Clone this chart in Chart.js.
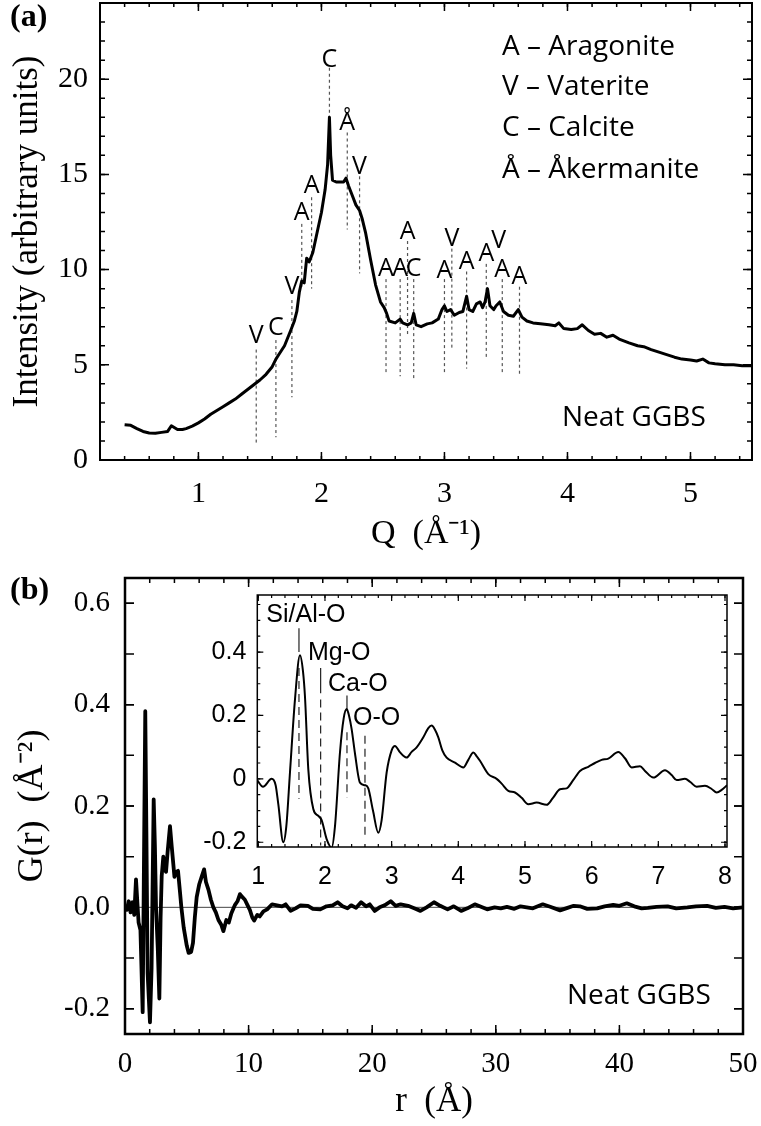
<!DOCTYPE html>
<html>
<head>
<meta charset="utf-8">
<script src="https://cdn.jsdelivr.net/npm/chart.js@4.4.1/dist/chart.umd.min.js"></script>
<style>
  body { margin: 0; background: #fff; }
  #wrap { position: relative; width: 761px; height: 1126px; }
  canvas { position: absolute; }
</style>
</head>
<body>
<div id="wrap">
  <canvas id="chartA" width="761" height="560" style="left:0;top:0"></canvas>
  <canvas id="chartB" width="761" height="566" style="left:0;top:560px"></canvas>
  <canvas id="chartInset" width="550" height="310" style="left:190px;top:585px"></canvas>
</div>
<script>
// ---- (a) scattering intensity I(Q) ----
const qValues = [0.40,0.45,0.50,0.55,0.60,0.65,0.70,0.75,0.78,0.80,
  0.83,0.87,0.90,0.95,1.00,1.05,1.10,1.15,1.20,1.25,
  1.30,1.35,1.40,1.45,1.50,1.55,1.60,1.63,1.65,1.70,
  1.75,1.78,1.80,1.82,1.84,1.86,1.88,1.90,1.93,1.96,
  2.00,2.03,2.05,2.065,2.075,2.09,2.12,2.15,2.18,2.20,
  2.22,2.25,2.28,2.31,2.33,2.36,2.40,2.44,2.48,2.51,
  2.53,2.55,2.60,2.64,2.66,2.70,2.73,2.75,2.77,2.81,
  2.86,2.90,2.95,2.98,3.00,3.02,3.05,3.08,3.12,3.15,
  3.18,3.20,3.23,3.26,3.29,3.31,3.33,3.35,3.37,3.40,
  3.42,3.45,3.48,3.52,3.56,3.60,3.63,3.67,3.72,3.78,
  3.85,3.90,3.93,3.97,4.03,4.08,4.12,4.17,4.22,4.27,
  4.32,4.37,4.42,4.50,4.57,4.62,4.68,4.75,4.80,4.87,
  4.93,5.00,5.05,5.10,5.15,5.20,5.28,5.35,5.42,5.50];
const intensity = [1.85,1.82,1.65,1.50,1.42,1.40,1.45,1.50,1.80,1.72,
  1.60,1.60,1.65,1.78,1.95,2.15,2.40,2.60,2.80,3.00,
  3.20,3.45,3.70,3.95,4.20,4.50,4.90,5.30,5.50,6.00,
  6.80,7.30,7.80,8.80,9.40,9.30,10.60,10.40,10.90,11.80,
  13.00,14.20,15.50,18.00,16.00,14.70,14.60,14.60,14.60,14.80,
  14.40,13.90,13.40,13.10,12.70,11.90,10.50,9.20,8.30,8.00,
  7.70,7.30,7.20,7.40,7.20,7.10,7.20,7.70,7.10,7.00,
  7.15,7.20,7.40,7.90,8.10,7.80,7.90,7.60,7.75,7.80,
  8.60,7.90,7.80,8.20,8.30,8.00,8.30,9.00,8.10,7.90,
  8.10,8.30,7.80,7.60,7.55,7.90,7.50,7.30,7.20,7.15,
  7.10,7.05,7.20,6.90,6.85,6.90,7.10,6.80,6.60,6.65,
  6.45,6.55,6.35,6.15,6.00,5.95,5.80,5.65,5.55,5.40,
  5.30,5.25,5.20,5.30,5.10,5.05,5.00,5.00,4.95,4.95];

// phase markers
const peakQ = [1.47,1.63,1.76,1.84,1.92,2.065,2.21,2.31,2.525,2.64,2.70,2.75,3.00,3.06,3.18,3.34,3.44,3.47,3.61];
const peakLetter = ['V','C','V','A','A','C','Å','V','A','A','A','C','A','V','A','A','V','A','A'];
const peakLabelI = [6.5,6.95,9.1,13.0,14.4,21.0,17.7,15.4,10.05,10.05,12.0,10.05,9.95,11.6,10.4,10.8,11.5,10.0,9.6];
const peakLineTop = [5.8,6.3,8.4,12.4,13.8,20.6,17.2,14.9,9.5,9.5,11.5,9.5,9.5,11.1,9.9,10.3,null,9.5,9.1];
const peakLineBottom = [0.9,1.2,3.3,9.0,9.0,18.0,12.1,9.8,4.5,4.4,6.6,4.3,4.6,5.8,4.8,5.3,null,4.6,4.5];
const phaseLegend = ['A – Aragonite', 'V – Vaterite', 'C – Calcite', 'Å – Åkermanite'];

// ---- (b) pair distribution function G(r) ----
const rMain = [0.0,0.15,0.3,0.45,0.6,0.75,0.89,1.0,1.1,1.25,
  1.43,1.52,1.64,1.73,1.83,2.02,2.15,2.32,2.42,2.51,
  2.65,2.78,2.88,2.97,3.1,3.22,3.32,3.45,3.64,3.78,
  3.91,4.0,4.15,4.29,4.45,4.56,4.75,5.0,5.15,5.35,
  5.5,5.65,5.8,6.0,6.2,6.4,6.55,6.75,6.95,7.15,
  7.35,7.56,7.8,7.96,8.2,8.4,8.6,8.9,9.1,9.3,
  9.5,9.7,9.9,10.1,10.3,10.45,10.7,10.9,11.2,11.5,
  11.9,12.3,12.7,13.0,13.4,13.8,14.2,14.8,15.2,15.8,
  16.3,16.8,17.2,17.6,18.0,18.3,18.7,19.1,19.5,19.8,
  20.2,20.6,21.0,21.5,21.9,22.3,22.9,23.4,23.9,24.4,
  25.0,25.5,26.1,26.6,27.2,27.7,28.3,28.8,29.3,29.9,
  30.4,30.9,31.5,32.0,32.5,33.0,33.8,34.4,35.2,35.8,
  36.3,36.8,37.4,38.2,38.8,39.5,40.0,40.6,41.2,41.8,
  42.3,43.0,43.9,44.6,45.5,46.2,47.1,47.8,48.5,49.2,50.0];
const gMain = [0.005,-0.005,0.012,-0.01,0.01,-0.015,0.055,0.01,-0.03,-0.045,
  -0.207,0.05,0.387,0.15,-0.13,-0.227,-0.12,0.213,0.12,0.0,
  -0.08,-0.18,-0.02,0.062,0.1,0.075,0.07,0.11,0.16,0.12,
  0.085,0.06,0.07,0.072,0.03,0.0,-0.04,-0.076,-0.09,-0.088,
  -0.07,-0.02,0.02,0.045,0.06,0.075,0.05,0.035,0.015,0.0,
  -0.01,-0.025,-0.035,-0.047,-0.025,-0.03,-0.012,0.005,0.012,0.026,
  0.02,0.015,0.005,-0.005,-0.02,-0.026,-0.015,-0.018,-0.008,-0.004,
  0.006,0.004,0.002,0.006,-0.007,-0.002,0.004,0.003,-0.003,-0.004,
  0.002,0.004,0.01,0.002,-0.002,0.004,-0.001,0.01,0.002,0.006,
  -0.007,0.0,0.004,0.012,0.003,0.006,0.003,-0.002,-0.007,0.0,
  0.01,0.003,-0.004,0.002,-0.007,-0.002,0.006,0.001,-0.004,0.0,
  -0.002,0.001,-0.003,0.002,0.0,-0.002,0.006,0.001,-0.006,-0.001,
  0.003,0.002,-0.003,-0.002,0.002,0.005,0.003,0.008,0.002,-0.002,
  -0.001,0.001,0.002,-0.002,0.0,0.002,0.003,-0.001,0.001,-0.002,0.0];

// inset: short-range G(r)
const rInset = [0.985,1.07,1.2,1.26,1.3,1.375,1.42,1.475,1.55,1.625,
  1.67,1.70,1.75,1.825,1.90,1.95,2.025,2.10,2.15,2.225,
  2.28,2.325,2.36,2.40,2.45,2.525,2.60,2.65,2.72,2.80,
  2.85,2.925,3.0,3.05,3.12,3.175,3.225,3.30,3.375,3.475,
  3.55,3.60,3.65,3.70,3.76,3.825,3.95,4.075,4.15,4.225,
  4.28,4.325,4.45,4.575,4.65,4.75,4.85,4.95,5.05,5.175,
  5.325,5.42,5.525,5.625,5.72,5.825,5.95,6.05,6.15,6.25,
  6.40,6.50,6.60,6.725,6.80,6.925,7.1,7.2,7.275,7.40,
  7.48,7.575,7.70,7.80,7.875,7.95,8.03];
const gInset = [-0.005,-0.025,0.0,-0.02,-0.08,-0.20,-0.15,0.02,0.25,0.39,
  0.34,0.26,0.03,-0.095,-0.117,-0.13,-0.19,-0.217,-0.15,0.083,
  0.19,0.22,0.20,0.157,0.08,-0.012,-0.02,-0.03,-0.10,-0.17,
  -0.13,0.02,0.09,0.104,0.085,0.073,0.067,0.085,0.099,0.131,
  0.16,0.168,0.155,0.131,0.09,0.067,0.051,0.036,0.06,0.083,
  0.07,0.057,0.015,0.0,-0.015,-0.038,-0.043,-0.06,-0.08,-0.075,
  -0.082,-0.06,-0.033,-0.03,-0.005,0.025,0.038,0.05,0.06,0.064,
  0.085,0.065,0.036,0.04,0.025,0.004,0.027,0.012,-0.004,0.0,
  -0.01,-0.025,-0.022,-0.032,-0.043,-0.035,-0.02];

const bondNames = ['Si/Al-O', 'Mg-O', 'Ca-O', 'O-O'];
const bondR = [1.61, 1.935, 2.33, 2.60];
const bondSolidTop = [0.475, 0.35, 0.263, null];
const bondSolidBottom = [0.40, 0.27, 0.215, null];
const bondDashTop = [0.35, 0.25, 0.147, 0.136];
const bondDashBottom = [-0.063, -0.21, -0.059, -0.19];
const bondLabelR = [1.12, 1.745, 2.045, 2.42];
const bondLabelG = [0.516, 0.396, 0.30, 0.193];

const serif = "'Liberation Serif', 'Times New Roman', serif";
const arial = "'Liberation Sans', Arial, sans-serif";
const calibri = "'Open Sans', 'Noto Sans', sans-serif";

const pts = (xs, ys) => xs.map((x, i) => ({ x: x, y: ys[i] }));
const vline = (x, y1, y2, dash, color) => ({
  data: [{ x: x, y: y1 }, { x: x, y: y2 }],
  borderColor: color, borderWidth: 1.2, borderDash: dash, pointRadius: 0
});

// box around the plot area with inward ticks on all four sides
const frame = {
  id: 'frame',
  beforeDatasetsDraw(chart, args, o) {
    if (!o.fill) return;
    const a = chart.chartArea;
    chart.ctx.save();
    chart.ctx.fillStyle = '#fff';
    chart.ctx.fillRect(a.left, a.top, a.right - a.left, a.bottom - a.top);
    chart.ctx.restore();
  },
  afterDatasetsDraw(chart, args, o) {
    const { ctx, chartArea: a, scales: { x, y } } = chart;
    ctx.save();
    ctx.strokeStyle = '#000';
    ctx.lineWidth = o.tickWidth;
    const marks = (scale, step, len, horiz) => {
      const n0 = Math.ceil(scale.min / step - 1e-6), n1 = Math.floor(scale.max / step + 1e-6);
      ctx.beginPath();
      for (let n = n0; n <= n1; n++) {
        const p = scale.getPixelForValue(n * step);
        if (horiz) {
          ctx.moveTo(p, a.bottom); ctx.lineTo(p, a.bottom - len);
          ctx.moveTo(p, a.top); ctx.lineTo(p, a.top + len);
        } else {
          ctx.moveTo(a.left, p); ctx.lineTo(a.left + len, p);
          ctx.moveTo(a.right, p); ctx.lineTo(a.right - len, p);
        }
      }
      ctx.stroke();
    };
    marks(x, o.xMinor, o.xMinorLen, true);
    marks(x, o.xMajor, o.xMajorLen, true);
    marks(y, o.yMinor, o.yMinorLen, false);
    marks(y, o.yMajor, o.yMajorLen, false);
    ctx.lineWidth = o.boxWidth;
    ctx.strokeRect(a.left, a.top, a.right - a.left, a.bottom - a.top);
    ctx.restore();
  }
};

// free text: pixel positions (px/py) or data positions (x/y)
const notes = {
  id: 'notes',
  afterDatasetsDraw(chart, args, o) {
    const { ctx, scales: { x, y } } = chart;
    ctx.save();
    ctx.fillStyle = '#000';
    ctx.textBaseline = 'middle';
    o.items.forEach(it => {
      ctx.font = it.font;
      ctx.textAlign = it.align || 'left';
      const px = it.px !== undefined ? it.px : x.getPixelForValue(it.x);
      const py = it.py !== undefined ? it.py : y.getPixelForValue(it.y);
      ctx.fillText(it.text, px, py);
    });
    ctx.restore();
  }
};

function scale(o) {
  return {
    type: 'linear', min: o.min, max: o.max,
    grid: { display: false, drawTicks: false },
    border: { display: false },
    ticks: {
      stepSize: o.step, includeBounds: false, autoSkip: false, maxRotation: 0,
      padding: o.pad, color: '#000', font: { family: o.family, size: o.fontSize },
      callback: o.fmt || (v => v)
    },
    title: o.title ? {
      display: true, text: o.title, color: '#000',
      font: { family: serif, size: o.titleSize },
      padding: o.titlePad
    } : { display: false },
    afterFit(s) {
      if (o.horizontal) s.height = o.size; else s.width = o.size;
      s.paddingTop = s.paddingBottom = s.paddingLeft = s.paddingRight = 0;
    }
  };
}

const base = {
  responsive: false, animation: false, devicePixelRatio: 1, events: []
};

// ---------- panel (a) ----------
const aNotes = peakQ.map((q, i) => ({ text: peakLetter[i], x: q, y: peakLabelI[i], font: '25px ' + calibri, align: 'center' }));
phaseLegend.forEach((t, i) => aNotes.push({ text: t, px: 502, py: [47, 87, 128, 170][i], font: '28px ' + calibri }));
aNotes.push({ text: 'Neat GGBS', px: 562, py: 418, font: '28px ' + calibri });
aNotes.push({ text: '(a)', px: 10, py: 18, font: 'bold 32px ' + serif });

const aSets = [{
  data: pts(qValues, intensity), borderColor: '#000', borderWidth: 3,
  pointRadius: 0, borderJoinStyle: 'round'
}];
peakQ.forEach((q, i) => {
  if (peakLineTop[i] !== null) aSets.push(vline(q, peakLineTop[i], peakLineBottom[i], [3, 3], '#555'));
});

new Chart(document.getElementById('chartA'), {
  type: 'line',
  data: { datasets: aSets },
  options: Object.assign({}, base, {
    layout: { padding: { left: 0, top: 3, right: 9, bottom: 0 } },
    scales: {
      x: scale({ min: 0.2, max: 5.5, step: 1, pad: 16, family: serif, fontSize: 30, horizontal: true, size: 100,
        title: 'Q  (Å⁻¹)', titleSize: 34, titlePad: { top: 0, bottom: 6 } }),
      y: scale({ min: 0, max: 24, step: 5, pad: 12, family: serif, fontSize: 30, size: 100,
        title: 'Intensity (arbitrary units)', titleSize: 35, titlePad: { top: 7, bottom: 0 } })
    },
    plugins: {
      legend: { display: false }, tooltip: { enabled: false },
      frame: { xMinor: 0.2, xMajor: 1, yMinor: 1, yMajor: 5, xMinorLen: 4, xMajorLen: 8,
        yMinorLen: 5, yMajorLen: 9, tickWidth: 1.5, boxWidth: 2 },
      notes: { items: aNotes }
    }
  }),
  plugins: [frame, notes]
});

// ---------- panel (b) ----------
new Chart(document.getElementById('chartB'), {
  type: 'line',
  data: {
    datasets: [
      { data: pts(rMain, gMain), borderColor: '#000', borderWidth: 3.8, pointRadius: 0, borderJoinStyle: 'round' },
      { data: [{ x: 0, y: 0 }, { x: 50, y: 0 }], borderColor: '#444', borderWidth: 1, pointRadius: 0 }
    ]
  },
  options: Object.assign({}, base, {
    layout: { padding: { left: 0, top: 18, right: 18, bottom: 0 } },
    scales: {
      x: scale({ min: 0, max: 50, step: 10, pad: 13, family: serif, fontSize: 29, horizontal: true, size: 92,
        title: 'r  (Å)', titleSize: 35, titlePad: { top: 0, bottom: 3 } }),
      y: scale({ min: -0.25, max: 0.65, step: 0.2, pad: 15, family: serif, fontSize: 29, size: 125,
        fmt: v => v.toFixed(1),
        title: 'G(r)  (Å⁻²)', titleSize: 36, titlePad: { top: 11, bottom: 0 } })
    },
    plugins: {
      legend: { display: false }, tooltip: { enabled: false },
      frame: { xMinor: 2, xMajor: 10, yMinor: 0.1, yMajor: 0.2, xMinorLen: 5, xMajorLen: 9,
        yMinorLen: 9, yMajorLen: 9, tickWidth: 1.5, boxWidth: 2.5 },
      notes: { items: [
        { text: 'Neat GGBS', px: 567, py: 436, font: '28px ' + calibri },
        { text: '(b)', px: 10, py: 31, font: 'bold 32px ' + serif }
      ] }
    }
  }),
  plugins: [frame, notes]
});

// ---------- inset ----------
const insetSets = [{
  data: pts(rInset, gInset), borderColor: '#000', borderWidth: 2,
  pointRadius: 0, cubicInterpolationMode: 'monotone'
}];
bondR.forEach((r, i) => {
  if (bondSolidTop[i] !== null) insetSets.push(vline(r, bondSolidTop[i], bondSolidBottom[i], [], '#222'));
  insetSets.push(vline(r, bondDashTop[i], bondDashBottom[i], [8, 5], '#222'));
});
const insetNotes = bondNames.map((t, i) => ({ text: t, x: bondLabelR[i], y: bondLabelG[i], font: '25px ' + arial }));

new Chart(document.getElementById('chartInset'), {
  type: 'line',
  data: { datasets: insetSets },
  options: Object.assign({}, base, {
    layout: { padding: { left: 0, top: 10, right: 13, bottom: 0 } },
    scales: {
      x: scale({ min: 0.985, max: 8.03, step: 1, pad: 15, family: arial, fontSize: 25, horizontal: true, size: 48 }),
      y: scale({ min: -0.215, max: 0.58, step: 0.2, pad: 11, family: arial, fontSize: 25, size: 67.3,
        fmt: v => Math.abs(v) < 1e-9 ? '0' : v.toFixed(1) })
    },
    plugins: {
      legend: { display: false }, tooltip: { enabled: false },
      frame: { fill: true, xMinor: 0.2, xMajor: 1, yMinor: 0.05, yMajor: 0.2, xMinorLen: 3, xMajorLen: 6,
        yMinorLen: 3, yMajorLen: 6, tickWidth: 1.2, boxWidth: 1.5 },
      notes: { items: insetNotes }
    }
  }),
  plugins: [frame, notes]
});
</script>
</body>
</html>
